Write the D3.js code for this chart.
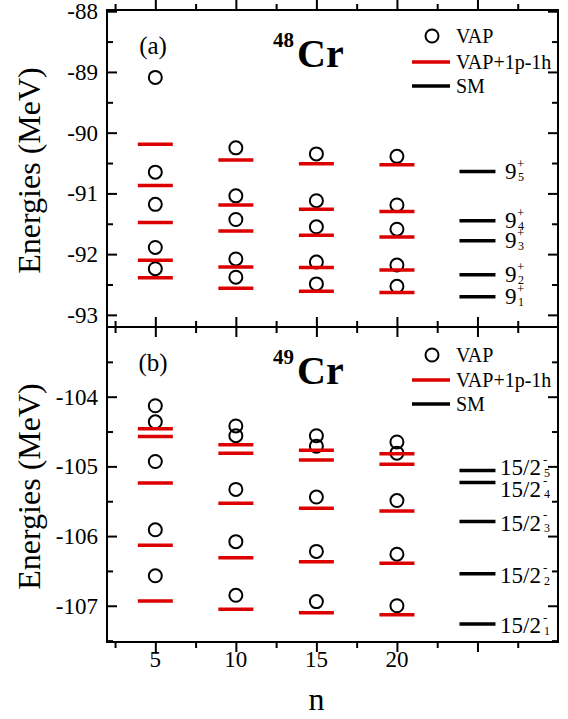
<!DOCTYPE html>
<html>
<head>
<meta charset="utf-8">
<script src="https://cdn.jsdelivr.net/npm/d3@7"></script>
<style>
  body { margin: 0; background: #fff; }
  svg { font-family: "Liberation Serif", "Times New Roman", serif; }
</style>
</head>
<body>
<script>
// n values of the VAP calculations, SM levels are placed at n = 25
const nValues = [5, 10, 15, 20];
const smPosition = 25;

// 48Cr, 9+ states (MeV), one row per n
const vapA = [
  [-89.09, -90.65, -91.18, -91.89, -92.24],
  [-90.25, -91.04, -91.43, -92.08, -92.38],
  [-90.35, -91.12, -91.55, -92.13, -92.49],
  [-90.39, -91.19, -91.59, -92.18, -92.53]
];
const vapPhA = [
  [-90.19, -90.87, -91.48, -92.10, -92.39],
  [-90.45, -91.19, -91.62, -92.21, -92.56],
  [-90.51, -91.26, -91.69, -92.22, -92.61],
  [-90.53, -91.30, -91.72, -92.26, -92.63]
];
const smA = [-92.70, -92.34, -91.78, -91.45, -90.64];

// 49Cr, 15/2- states (MeV)
const vapB = [
  [-104.13, -104.36, -104.93, -105.91, -106.57],
  [-104.42, -104.56, -105.33, -106.08, -106.85],
  [-104.56, -104.71, -105.44, -106.22, -106.94],
  [-104.65, -104.81, -105.49, -106.26, -107.00]
];
const vapPhB = [
  [-104.46, -104.57, -105.24, -106.13, -106.93],
  [-104.69, -104.81, -105.53, -106.31, -107.05],
  [-104.77, -104.91, -105.60, -106.37, -107.10],
  [-104.82, -104.97, -105.64, -106.39, -107.13]
];
const smB = [-107.26, -106.54, -105.79, -105.23, -105.06];

const xTicksMajor = [5, 10, 15, 20, 25];
const xTickLabels = [5, 10, 15, 20];
const xTicksMinor = [2.5, 7.5, 12.5, 17.5, 22.5, 27.5];

const yTicksA = [-93, -92, -91, -90, -89, -88];
const yTicksB = [-107, -106, -105, -104];

const red = "#dd0000";
const W = 568, H = 719;
const left = 107, right = 558;

const svg = d3.select("body").append("svg")
  .attr("width", W)
  .attr("height", H);

const x = d3.scaleLinear().domain([2, 30]).range([left, right]);

const yA = d3.scaleLinear().domain([-93.2, -87.98]).range([327, 10]);
const yB = d3.scaleLinear().domain([-107.52, -103]).range([642, 327]);

function halfTicks(scale) {
  const [a, b] = scale.domain();
  const out = [];
  for (let v = Math.ceil(a * 2) / 2; v <= b; v += 0.5) {
    if (Math.abs(v - Math.round(v)) > 0.1) out.push(v);
  }
  return out;
}

function panel(opts) {
  const y = opts.y;
  const [y0, y1] = y.range();
  const g = svg.append("g");

  // ticks, all pointing inward
  const axes = [
    [d3.axisLeft(y).tickValues(opts.yTicks).tickSize(-10).tickPadding(9).tickFormat(d => String(d)), `translate(${left},0)`],
    [d3.axisLeft(y).tickValues(halfTicks(y)).tickSize(-6).tickFormat(""), `translate(${left},0)`],
    [d3.axisRight(y).tickValues(opts.yTicks).tickSize(-10).tickFormat(""), `translate(${right},0)`],
    [d3.axisRight(y).tickValues(halfTicks(y)).tickSize(-6).tickFormat(""), `translate(${right},0)`],
    [d3.axisTop(x).tickValues(xTicksMajor).tickSize(-10).tickFormat(""), `translate(0,${y0})`],
    [d3.axisTop(x).tickValues(xTicksMinor).tickSize(-6).tickFormat(""), `translate(0,${y0})`],
    [d3.axisBottom(x).tickValues(xTicksMajor).tickSize(-10).tickFormat(""), `translate(0,${y1})`],
    [d3.axisBottom(x).tickValues(xTicksMinor).tickSize(-6).tickFormat(""), `translate(0,${y1})`]
  ];
  axes.forEach(([ax, tr]) => {
    const a = g.append("g").attr("transform", tr).call(ax);
    a.select(".domain").remove();
    a.selectAll("line").attr("stroke", "#000").attr("stroke-width", 2);
    a.selectAll("text").attr("font-size", 23).attr("fill", "#000")
      .style("font-family", '"Liberation Serif", "Times New Roman", serif');
  });

  // frame
  g.append("rect")
    .attr("x", left).attr("y", y1)
    .attr("width", right - left).attr("height", y0 - y1)
    .attr("fill", "none").attr("stroke", "#000").attr("stroke-width", 2);

  // VAP circles
  const circ = [];
  opts.vap.forEach((row, i) => row.forEach(v => circ.push({ n: nValues[i], v })));
  g.selectAll("circle.vap").data(circ).enter().append("circle")
    .attr("class", "vap")
    .attr("cx", d => x(d.n)).attr("cy", d => y(d.v))
    .attr("r", 6.5)
    .attr("fill", "none").attr("stroke", "#000").attr("stroke-width", 2);

  // VAP+1p-1h levels
  const lev = [];
  opts.vapPh.forEach((row, i) => row.forEach(v => lev.push({ n: nValues[i], v })));
  g.selectAll("line.ph").data(lev).enter().append("line")
    .attr("class", "ph")
    .attr("x1", d => x(d.n) - 17.5).attr("x2", d => x(d.n) + 17.5)
    .attr("y1", d => y(d.v)).attr("y2", d => y(d.v))
    .attr("stroke", red).attr("stroke-width", 3.5);

  // SM levels
  g.selectAll("line.sm").data(opts.sm).enter().append("line")
    .attr("class", "sm")
    .attr("x1", x(smPosition) - 18).attr("x2", x(smPosition) + 18)
    .attr("y1", d => y(d)).attr("y2", d => y(d))
    .attr("stroke", "#000").attr("stroke-width", 3.5);

  // SM state labels, spread a little where they would collide
  const pos = opts.sm.map((v, i) => ({ i: i + 1, c: y(v) + opts.labelShift }));
  pos.sort((a, b) => a.c - b.c);
  for (let k = 0; k < 20; k++) {
    for (let j = 1; j < pos.length; j++) {
      const gap = pos[j].c - pos[j - 1].c;
      if (gap < opts.labelGap) {
        const d = (opts.labelGap - gap) / 2;
        pos[j - 1].c -= d;
        pos[j].c += d;
      }
    }
  }
  pos.forEach(p => {
    g.append("text")
      .attr("x", opts.labelX)
      .attr("y", p.c + 7.5)
      .attr("font-size", 23)
      .text(opts.stateMain);
    const bx = opts.labelX + opts.mainWidth;
    g.append("text").attr("x", bx).attr("y", p.c - 4).attr("font-size", 13).text(opts.stateSup);
    g.append("text").attr("x", bx + 1).attr("y", p.c + 9).attr("font-size", 12).text(p.i);
  });

  // panel letter and nucleus
  g.append("text").attr("x", 153).attr("y", y1 + 44)
    .attr("text-anchor", "middle").attr("font-size", 25).text(opts.letter);
  g.append("text").attr("x", 273).attr("y", y1 + 37)
    .attr("font-size", 21).attr("font-weight", "bold").text(opts.mass);
  g.append("text").attr("x", 297).attr("y", y1 + 57)
    .attr("font-size", 40).attr("font-weight", "bold").text("Cr");

  // legend
  const lg = g.append("g").attr("transform", `translate(0,${y1})`);
  lg.append("circle").attr("cx", 432).attr("cy", opts.legY[0]).attr("r", 6.5)
    .attr("fill", "none").attr("stroke", "#000").attr("stroke-width", 2);
  lg.append("line").attr("x1", 412).attr("x2", 450)
    .attr("y1", opts.legY[1]).attr("y2", opts.legY[1])
    .attr("stroke", red).attr("stroke-width", 3.5);
  lg.append("line").attr("x1", 412).attr("x2", 450)
    .attr("y1", opts.legY[2]).attr("y2", opts.legY[2])
    .attr("stroke", "#000").attr("stroke-width", 3.5);
  ["VAP", "VAP+1p-1h", "SM"].forEach((s, i) => {
    lg.append("text").attr("x", 456).attr("y", opts.legY[i] + 7)
      .attr("font-size", 20).text(s);
  });

  // y title
  svg.append("text")
    .attr("transform", `translate(40,${(y0 + y1) / 2 + 2}) rotate(-90)`)
    .attr("text-anchor", "middle")
    .attr("font-size", 32)
    .text("Energies (MeV)");
}

panel({
  y: yA, yTicks: yTicksA, vap: vapA, vapPh: vapPhA, sm: smA,
  letter: "(a)", mass: "48", legY: [26, 52, 76],
  stateMain: "9", stateSup: "+", mainWidth: 12, labelX: 505,
  labelShift: 0, labelGap: 20
});

panel({
  y: yB, yTicks: yTicksB, vap: vapB, vapPh: vapPhB, sm: smB,
  letter: "(b)", mass: "49", legY: [28, 53, 77],
  stateMain: "15/2", stateSup: "-", mainWidth: 43, labelX: 500,
  labelShift: 2, labelGap: 21.5
});

// x tick labels under the lower panel
svg.append("g").selectAll("text").data(xTickLabels).enter().append("text")
  .attr("x", d => x(d)).attr("y", 667)
  .attr("text-anchor", "middle").attr("font-size", 23)
  .text(d => d);

svg.append("text")
  .attr("x", x(15)).attr("y", 710)
  .attr("text-anchor", "middle").attr("font-size", 32)
  .text("n");
</script>
</body>
</html>
